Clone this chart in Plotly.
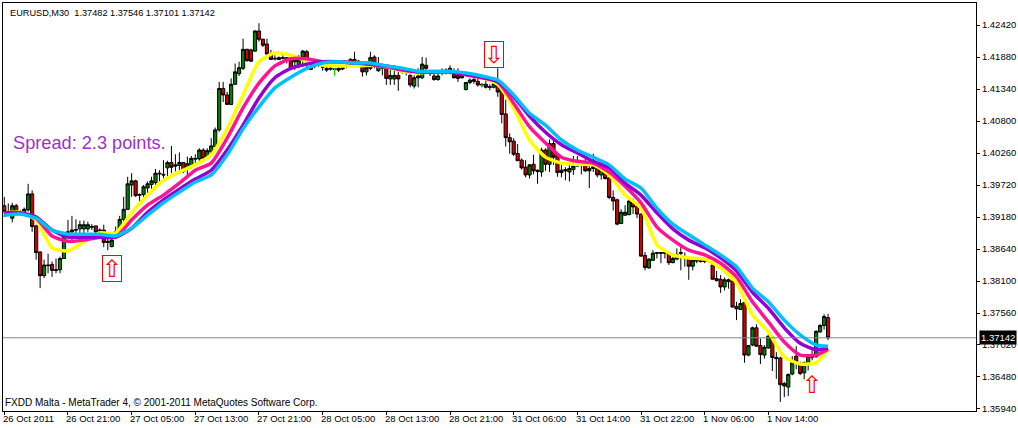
import plotly.graph_objects as go

open_pts = [
13937,13927,13916,13937,13927,13927,13930,13957,13903,13859,
13819,13837,13838,13829,13829,13848,13893,13896,13897,13898,
13898,13898,13902,13903,13896,13896,13877,13868,13888,13893,
13914,13931,13972,13979,13956,13956,13967,13973,13976,13992,
13990,14001,14010,14006,14005,14010,14000,14005,14017,14016,
14031,14019,14028,14037,14065,14135,14124,14108,14142,14160,
14169,14201,14200,14198,14232,14218,14210,14193,14186,14187,
14187,14187,14184,14180,14173,14188,14197,14171,14174,14177,
14172,14169,14169,14168,14169,14170,14174,14184,14184,14181,
14173,14163,14169,14188,14165,14172,14170,14151,14151,14157,
14164,14166,14157,14139,14156,14153,14174,14163,14156,14150,
14165,14166,14164,14159,14157,14157,14133,14145,14150,14147,
14142,14142,14138,14137,14140,14131,14092,14052,14046,14025,
14014,14002,13989,14007,13997,13994,14031,14007,14042,14022,
13997,13998,13994,13998,14007,14007,14006,14000,14003,14000,
13989,13994,13984,13951,13947,13907,13921,13922,13945,13936,
13923,13853,13832,13845,13858,13858,13858,13857,13841,13847,
13858,13850,13847,13835,13845,13844,13844,13844,13837,13814,
13813,13800,13812,13810,13767,13762,13774,13685,13702,13731,
13701,13685,13697,13715,13681,13680,13637,13631,13653,13683,
13671,13655,13672,13681,13682,13724,13735,13748.2]
high_pts = [
13952,13941,13942,13940,13930,13934,13974,13963,13905,13860,
13846,13856,13843,13848,13851,13893,13913,13920,13914,13912,
13912,13910,13906,13903,13899,13905,13891,13888,13902,13920,
13952,13986,13992,13981,13958,13972,13978,13986,13999,13997,
14014,14013,14038,14024,14027,14010,14020,14021,14024,14034,
14034,14034,14051,14069,14146,14146,14129,14152,14177,14180,
14219,14202,14202,14233,14245,14219,14219,14200,14191,14189,
14191,14188,14188,14183,14191,14200,14200,14177,14180,14180,
14174,14174,14172,14169,14172,14173,14177,14186,14197,14183,
14180,14177,14197,14191,14188,14177,14174,14166,14165,14169,
14169,14169,14169,14157,14169,14188,14187,14166,14163,14163,
14169,14169,14174,14169,14169,14163,14146,14152,14157,14152,
14144,14149,14142,14146,14169,14132,14116,14059,14051,14041,
14017,14014,14007,14023,13998,14035,14034,14049,14048,14023,
14006,14002,14010,14021,14021,14013,14017,14008,14025,14006,
14006,14003,13985,13963,13949,13931,13938,13952,13949,13938,
13924,13859,13848,13862,13859,13859,13859,13858,13851,13865,
13871,13858,13848,13848,13848,13848,13848,13848,13843,13827,
13820,13816,13814,13811,13775,13779,13775,13702,13733,13737,
13713,13702,13719,13717,13690,13682,13640,13654,13683,13700,
13674,13674,13685,13693,13727,13737,13754,13754.6]
low_pts = [
13918,13924,13909,13924,13924,13924,13927,13893,13846,13798,
13815,13823,13817,13823,13823,13847,13885,13877,13885,13888,
13891,13893,13896,13885,13882,13867,13862,13867,13885,13891,
13906,13930,13952,13952,13942,13947,13955,13964,13972,13975,
13978,13986,13992,13995,13992,13992,13989,14000,14009,14009,
14014,14017,14026,14037,14062,14112,14107,14107,14141,14156,
14166,14180,14180,14197,14214,14205,14191,14183,14182,14183,
14184,14177,14167,14166,14169,14171,14169,14166,14169,14171,
14165,14163,14165,14157,14163,14166,14169,14172,14174,14172,
14155,14157,14166,14169,14163,14157,14141,14141,14141,14131,
14160,14157,14137,14135,14137,14151,14166,14156,14148,14148,
14157,14159,14159,14152,14146,14152,14132,14142,14143,14138,
14137,14135,14132,14135,14121,14076,14037,14025,14021,14013,
13998,13985,13983,13990,13974,13986,13996,13994,14006,13986,
13985,13980,13978,13989,14003,13990,13994,13967,13994,13985,
13981,13981,13948,13929,13904,13906,13920,13921,13923,13916,
13851,13828,13831,13844,13848,13840,13848,13837,13840,13845,
13828,13834,13812,13828,13840,13841,13840,13841,13813,13809,
13790,13794,13797,13766,13744,13761,13672,13683,13700,13699,
13670,13679,13696,13658,13645,13606,13614,13616,13651,13661,
13651,13644,13659,13676,13681,13723,13728,13710.1]
close_pts = [
13927,13926,13937,13927,13926,13931,13957,13902,13858,13819,
13837,13836,13828,13828,13848,13885,13892,13893,13896,13905,
13905,13905,13901,13893,13895,13875,13875,13879,13893,13914,
13931,13974,13979,13954,13955,13969,13974,13979,13992,13991,
13989,14010,14002,14004,14010,13995,14008,14017,14016,14031,
14017,14030,14038,14065,14135,14124,14108,14142,14163,14170,
14201,14182,14181,14232,14218,14208,14193,14184,14185,14184,
14186,14185,14169,14183,14183,14198,14180,14167,14173,14176,
14171,14166,14168,14167,14166,14168,14173,14177,14177,14174,
14163,14170,14187,14172,14173,14169,14152,14157,14157,14151,
14163,14165,14141,14153,14153,14176,14169,14160,14150,14156,
14164,14165,14169,14153,14152,14153,14145,14149,14147,14141,
14141,14137,14137,14143,14129,14091,14052,14045,14024,14013,
14001,13989,14006,13996,13995,14031,14007,14042,14019,13993,
13993,13996,14000,14004,14004,14006,13996,13996,14000,13989,
13998,13983,13951,13945,13906,13926,13926,13945,13935,13923,
13852,13833,13847,13857,13857,13857,13857,13841,13848,13855,
13857,13849,13835,13845,13844,13843,13843,13843,13813,13811,
13800,13812,13809,13766,13763,13772,13685,13701,13731,13700,
13686,13698,13717,13681,13679,13635,13633,13652,13672,13674,
13654,13672,13683,13685,13725,13735,13750,13714.2]

ma_bars = list(range(0, 205, 4)) + [207]
ma_blue = [13921,13923,13916,13896,13889,13889,13889,13886,13899,13921,13942,13960,13977,13989,14023,14067,14104,14136,14154,14169,14178,14180,14178,14178,14173,14169,14164,14164,14164,14161,14156,14149,14124,14093,14073,14048,14031,14019,14006,13982,13967,13933,13906,13888,13871,13854,13834,13798,13775,13744,13719,13702,13700]
ma_purple = [13925,13925,13918,13896,13884,13884,13884,13884,13899,13926,13947,13965,13982,13997,14031,14073,14119,14153,14169,14176,14180,14180,14178,14176,14173,14168,14163,14163,14163,14159,14154,14146,14121,14088,14061,14040,14026,14012,14001,13975,13955,13925,13898,13879,13866,13849,13827,13791,13764,13731,13705,13694,13697]
ma_pink = [13925,13925,13916,13886,13877,13879,13884,13884,13913,13938,13955,13975,13997,14009,14051,14102,14144,14173,14185,14185,14180,14180,14178,14176,14171,14166,14163,14163,14163,14158,14153,14146,14110,14070,14043,14019,14012,14009,13994,13970,13942,13901,13879,13862,13854,13840,13817,13775,13741,13707,13685,13685,13695]
ma_yellow = [13925,13926,13913,13866,13861,13876,13891,13891,13925,13955,13980,13994,14006,14023,14067,14124,14180,14195,14191,14181,14174,14173,14173,14174,14171,14164,14161,14163,14163,14159,14153,14142,14102,14048,14019,14009,14007,14006,13989,13955,13933,13871,13854,13849,13847,13832,13807,13753,13724,13682,13670,13672,13694]

price_ticks = [1.42420,1.41880,1.41340,1.40800,1.40260,1.39720,1.39180,1.38640,1.38100,1.37560,1.37020,1.36480,1.35940]
price_labels = ["1.42420","1.41880","1.41340","1.40800","1.40260","1.39720","1.39180","1.38640","1.38100","1.37560","1.37020","1.36480","1.35940"]
time_ticks = [0,16,32,48,64,80,96,112,128,144,160,176,192]
time_labels = ["26 Oct 2011","26 Oct 21:00","27 Oct 05:00","27 Oct 13:00","27 Oct 21:00","28 Oct 05:00","28 Oct 13:00","28 Oct 21:00","31 Oct 06:00","31 Oct 14:00","31 Oct 22:00","1 Nov 06:00","1 Nov 14:00"]
lime_bars = [83, 120]
last_price = 1.37142
signal_up_boxed = (27, 1.3831)
signal_down_boxed = (123, 1.4193)
signal_up_plain = (203, 1.36345)

P = lambda v: [a / 1e4 for a in v]
bars = list(range(len(open_pts)))
FONT = "Liberation Sans"

fig = go.Figure()
fig.add_trace(go.Candlestick(
    x=bars, open=P(open_pts), high=P(high_pts), low=P(low_pts), close=P(close_pts),
    increasing=dict(line=dict(color="#000000", width=1), fillcolor="#008000"),
    decreasing=dict(line=dict(color="#000000", width=1), fillcolor="#d00000"),
    whiskerwidth=0, showlegend=False))
lx, ly = [], []
for b in lime_bars:
    lx += [b, b, None]
    ly += [high_pts[b] / 1e4, low_pts[b] / 1e4, None]
fig.add_trace(go.Scatter(x=lx, y=ly, mode="lines", line=dict(color="#00ff00", width=1), showlegend=False))
for vals, col in [(ma_yellow, "#ffff00"), (ma_pink, "#ff1493"), (ma_purple, "#9400d3"), (ma_blue, "#00bfff")]:
    fig.add_trace(go.Scatter(x=ma_bars, y=P(vals), mode="lines",
                             line=dict(color=col, width=3.5, shape="spline", smoothing=0.6), showlegend=False))

fig.add_shape(type="line", xref="paper", x0=0, x1=1, yref="y", y0=last_price, y1=last_price,
              line=dict(color="#778899", width=1))

ann = []
for t, s in zip(time_ticks, time_labels):
    ann.append(dict(x=t, xref="x", xshift=-3.5, y=-0.0195, yref="paper", text=s, xanchor="left", yanchor="middle", showarrow=False,
                    font=dict(family=FONT, size=9.5, color="#000000")))
ann.append(dict(x=0.005, xref="paper", y=0.9925, yref="paper", yanchor="top", xanchor="left", showarrow=False,
                text="EURUSD,M30  1.37482 1.37546 1.37101 1.37142", font=dict(family=FONT, size=9.2, color="#000000")))
ann.append(dict(x=0.0085, xref="paper", y=0.6575, yref="paper", yanchor="middle", xanchor="left", showarrow=False,
                text="Spread: 2.3 points.", font=dict(family=FONT, size=18.2, color="#9932cc")))
ann.append(dict(x=0.0, xref="paper", y=0.0200, yref="paper", yanchor="middle", xanchor="left", showarrow=False,
                text="FXDD Malta - MetaTrader 4, © 2001-2011 MetaQuotes Software Corp.",
                font=dict(family=FONT, size=10, color="#000000")))
ann.append(dict(x=1.003, xref="paper", y=last_price, yref="y", xanchor="left", yanchor="middle", showarrow=False,
                text="1.37142", bgcolor="#000000", borderpad=1, font=dict(family=FONT, size=9.5, color="#ffffff")))
for (b, price), glyph in [(signal_up_boxed, "⇧"), (signal_down_boxed, "⇩")]:
    ann.append(dict(x=b, y=price, xref="x", yref="y", showarrow=False, text=glyph, width=18, height=25,
                    bordercolor="#ff0000", borderwidth=1, borderpad=0,
                    font=dict(family="DejaVu Sans", size=24, color="#ff0000")))
ann.append(dict(x=signal_up_plain[0], y=signal_up_plain[1], xref="x", yref="y", showarrow=False, text="⇧",
                font=dict(family="DejaVu Sans", size=24, color="#ff0000")))

fig.update_layout(
    width=1018, height=428, autosize=False,
    margin=dict(l=2, r=38, t=3, b=17),
    paper_bgcolor="#ffffff", plot_bgcolor="#ffffff",
    annotations=ann, showlegend=False, boxgap=0.2, boxgroupgap=0,
    xaxis=dict(range=[-0.325, 244.175], rangeslider=dict(visible=False), showgrid=False, zeroline=False,
               tickmode="array", tickvals=time_ticks, ticktext=[""] * len(time_ticks), ticks="outside", ticklen=3,
               tickcolor="#000000", showline=True, linecolor="#000000", linewidth=1, mirror=True),
    yaxis=dict(range=[1.35906, 1.42792], side="right", showgrid=False, zeroline=False,
               tickmode="array", tickvals=price_ticks, ticktext=price_labels, ticks="outside", ticklen=3,
               tickcolor="#000000", tickfont=dict(family=FONT, size=9.5, color="#000000"),
               showline=True, linecolor="#000000", linewidth=1, mirror=True),
)
fig.write_html("out.html", config=dict(displayModeBar=False),
               post_script="document.body.style.margin='0';document.body.style.overflow='hidden';")
